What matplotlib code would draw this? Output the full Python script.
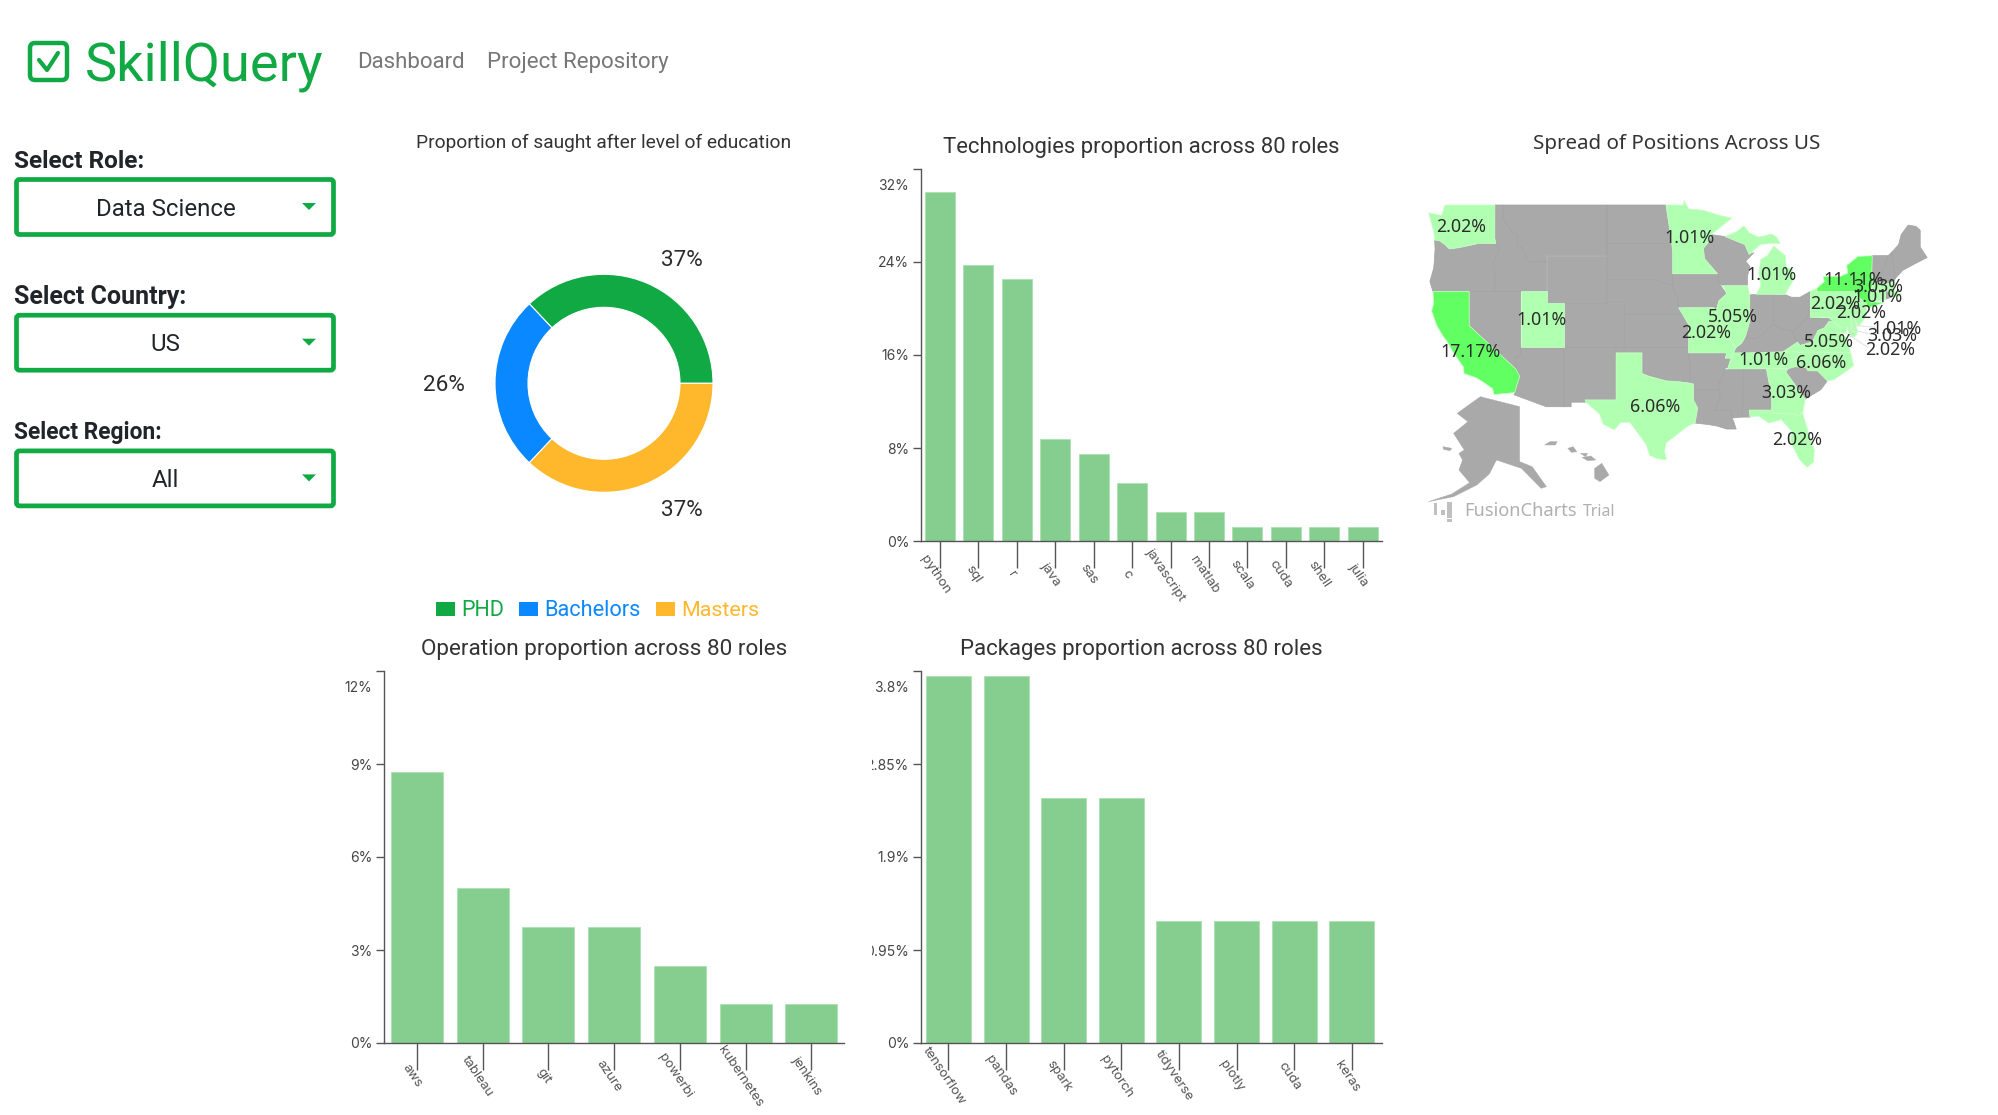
import math
import matplotlib
matplotlib.use("Agg")
import matplotlib.pyplot as plt
from matplotlib.patches import Polygon, FancyBboxPatch, Rectangle
from matplotlib.transforms import ScaledTranslation, Bbox, TransformedBbox, IdentityTransform

W, H = 1999, 1115
UI = "Roboto"
TICKF = "Inter"
MAPF = "Noto Sans"
GREEN = "#10a944"
BAR = "#86cd90"

# ---------- data ----------
edu_labels = ["PHD", "Bachelors", "Masters"]
edu_values = [37, 26, 37]
edu_colors = ["#10a944", "#0a88ff", "#ffb82b"]

tech_labels = ["python", "sql", "r", "java", "sas", "c", "javascript", "matlab", "scala", "cuda", "shell", "julia"]
tech_values = [30.0, 23.75, 22.5, 8.75, 7.5, 5.0, 2.5, 2.5, 1.25, 1.25, 1.25, 1.25]
tech_ticks = [0, 8, 16, 24, 32]
tech_ticklabels = ["0%", "8%", "16%", "24%", "32%"]

op_labels = ["aws", "tableau", "git", "azure", "powerbi", "kubernetes", "jenkins"]
op_values = [8.75, 5.0, 3.75, 3.75, 2.5, 1.25, 1.25]
op_ticks = [0, 3, 6, 9, 12]
op_ticklabels = ["0%", "3%", "6%", "9%", "12%"]

pkg_labels = ["tensorflow", "pandas", "spark", "pytorch", "tidyverse", "plotly", "cuda", "keras"]
pkg_values = [3.75, 3.75, 2.5, 2.5, 1.25, 1.25, 1.25, 1.25]
pkg_ticks = [0, 0.95, 1.9, 2.85, 3.8]
pkg_ticklabels = ["0%", "0.95%", "1.9%", "2.85%", "3.8%"]

map_states = ["WA", "CA", "UT", "MN", "MI", "IL", "MO", "TX", "TN", "GA", "FL", "NC", "VA", "PA", "NY", "NJ",
              "MA", "CT", "DE", "MD", "DC"]
map_values = [2.02, 17.17, 1.01, 1.01, 1.01, 5.05, 2.02, 6.06, 1.01, 3.03, 2.02, 6.06, 5.05, 2.02, 11.11, 2.02,
              3.03, 1.01, 1.01, 3.03, 2.02]
# label anchor for each entry above, in reference crop units
map_label_xy = [(172, 321), (197, 695), (397, 601), (810, 355), (1041, 466), (932, 590), (858, 638), (713, 860),
                (1018, 721), (1082, 820), (1113, 959), (1180, 729), (1200, 667), (1217, 552), (1270, 480),
                (1290, 580), (1340, 502), (1338, 532), (1390, 627), (1378, 647), (1373, 689)]

# coarse state outlines, lon/lat
state_shapes = {
 "WA": [(-124.7,48.4),(-123.2,48.2),(-122.8,49),(-117.03,49),(-117.04,46.4),(-116.92,45.99),(-118.98,46),(-119.3,45.93),(-121.2,45.65),(-122.3,45.55),(-122.8,45.9),(-123.4,46.2),(-124.0,46.27),(-124.1,46.9)],
 "OR": [(-124.0,46.27),(-123.4,46.2),(-122.8,45.9),(-122.3,45.55),(-121.2,45.65),(-119.3,45.93),(-118.98,46),(-116.92,45.99),(-116.46,45.6),(-116.85,44.95),(-117.2,44.4),(-117.03,43.8),(-117.03,42),(-124.2,42),(-124.55,42.85),(-124.1,44.0),(-123.95,45.5)],
 "CA": [(-124.2,42),(-120,42),(-120,39),(-114.63,35),(-114.15,34.27),(-114.5,33.4),(-114.72,32.72),(-117.12,32.53),(-117.3,33.1),(-118.4,33.75),(-119.2,34.15),(-120.6,34.55),(-120.65,35.15),(-121.9,36.6),(-122.5,37.5),(-123.0,38.0),(-123.75,39),(-124.35,40.3),(-124.1,41)],
 "NV": [(-120,42),(-114.04,42),(-114.04,36.2),(-114.63,36.1),(-114.63,35),(-120,39)],
 "ID": [(-117.03,49),(-116.05,49),(-116.05,48),(-115.7,47.5),(-114.7,46.7),(-114.35,46.65),(-114.5,45.6),(-113.95,45.7),(-113.45,44.95),(-113,44.45),(-111.5,44.55),(-111.05,44.5),(-111.05,42),(-117.03,42),(-117.03,43.8),(-117.2,44.4),(-116.85,44.95),(-116.46,45.6),(-116.92,45.99),(-117.04,46.4)],
 "MT": [(-116.05,49),(-104.05,49),(-104.05,45),(-111.05,45),(-111.05,44.5),(-111.5,44.55),(-113,44.45),(-113.45,44.95),(-113.95,45.7),(-114.5,45.6),(-114.35,46.65),(-114.7,46.7),(-115.7,47.5),(-116.05,48)],
 "WY": [(-111.05,45),(-104.05,45),(-104.05,41),(-111.05,41)],
 "UT": [(-114.04,42),(-111.05,42),(-111.05,41),(-109.05,41),(-109.05,37),(-114.04,37)],
 "CO": [(-109.05,41),(-102.05,41),(-102.05,37),(-109.05,37)],
 "AZ": [(-114.04,37),(-109.05,37),(-109.05,31.33),(-111.07,31.33),(-114.8,32.5),(-114.72,32.72),(-114.5,33.4),(-114.15,34.27),(-114.63,35),(-114.63,36.1),(-114.04,36.2)],
 "NM": [(-109.05,37),(-103,37),(-103,32),(-106.6,32),(-106.5,31.78),(-108.2,31.78),(-108.2,31.33),(-109.05,31.33)],
 "ND": [(-104.05,49),(-97.23,49),(-96.56,46),(-104.05,46)],
 "SD": [(-104.05,46),(-96.56,46),(-96.45,45.3),(-96.45,42.5),(-97.9,42.8),(-98.5,43),(-104.05,43)],
 "NE": [(-104.05,43),(-98.5,43),(-97.9,42.8),(-96.45,42.5),(-95.9,41.5),(-95.3,40),(-102.05,40),(-102.05,41),(-104.05,41)],
 "KS": [(-102.05,40),(-95.3,40),(-94.62,39.1),(-94.62,37),(-102.05,37)],
 "OK": [(-103,37),(-94.62,37),(-94.43,35.4),(-94.48,33.64),(-96,33.8),(-97.2,33.85),(-99.2,34.3),(-100,34.56),(-100,36.5),(-103,36.5)],
 "TX": [(-103,36.5),(-100,36.5),(-100,34.56),(-99.2,34.3),(-97.2,33.85),(-96,33.8),(-94.48,33.64),(-94.04,33.55),(-94.04,32),(-93.55,31.2),(-93.85,29.7),(-94.7,29.4),(-96,28.5),(-97.2,27.7),(-97.4,26.8),(-97.15,25.96),(-98.2,26.05),(-99.1,26.4),(-99.5,27.5),(-100.4,28.6),(-101.4,29.77),(-102.5,29.75),(-103.2,29),(-104.5,29.6),(-104.9,30.6),(-106.5,31.78),(-106.6,32),(-103,32)],
 "MN": [(-97.23,49),(-95.15,49),(-95.15,49.38),(-94.6,48.7),(-92.9,48.6),(-91,48.2),(-89.6,48),(-92,46.7),(-92.3,46.1),(-92.9,45.6),(-92.75,44.75),(-91.25,43.5),(-96.45,43.5),(-96.45,45.3),(-96.56,46)],
 "IA": [(-96.45,43.5),(-91.25,43.5),(-91.1,42.7),(-90.2,41.8),(-91.1,41.2),(-91.42,40.38),(-91.7,40.6),(-95.77,40.58),(-95.9,41.5),(-96.45,42.5)],
 "MO": [(-95.77,40.58),(-91.7,40.6),(-91.42,40.38),(-91.5,40),(-90.7,39),(-90.2,38.8),(-90.2,38.3),(-89.5,37.3),(-89.1,37),(-89.4,36.5),(-89.7,36),(-90.37,36),(-90.2,36.5),(-94.62,36.5),(-94.62,39.1),(-95.3,40)],
 "AR": [(-94.62,36.5),(-90.2,36.5),(-90.37,36),(-89.7,36),(-90.1,35),(-90.3,35),(-91.1,33.6),(-91.17,33),(-94.04,33),(-94.04,33.55),(-94.48,33.64),(-94.43,35.4)],
 "LA": [(-94.04,33),(-91.17,33),(-90.9,32.3),(-91.6,31),(-89.73,31),(-89.6,30.2),(-89.4,29.9),(-89.1,29.1),(-90.2,29.1),(-91.3,29.4),(-92.3,29.55),(-93.85,29.7),(-93.55,31.2),(-94.04,32)],
 "WI": [(-92,46.7),(-90.4,46.55),(-88.1,45.9),(-87.6,45.1),(-87.05,45.25),(-88,44.55),(-87.5,44.1),(-87.8,43.3),(-87.8,42.5),(-90.65,42.5),(-91.1,42.7),(-91.25,43.5),(-92.75,44.75),(-92.9,45.6),(-92.3,46.1)],
 "IL": [(-90.65,42.5),(-87.8,42.5),(-87.53,41.7),(-87.53,39.35),(-87.95,38.2),(-88.1,37.9),(-88.45,37.4),(-89.1,37),(-89.5,37.3),(-90.2,38.3),(-90.2,38.8),(-90.7,39),(-91.5,40),(-91.42,40.38),(-91.1,41.2),(-90.2,41.8)],
 "IN": [(-87.53,41.7),(-86.8,41.76),(-84.8,41.76),(-84.8,39.1),(-85.4,38.7),(-86.3,38),(-87.1,37.8),(-88.05,37.8),(-87.95,38.2),(-87.53,39.35)],
 "MI": [(-86.8,41.76),(-84.8,41.75),(-83.45,41.73),(-83.1,42.2),(-82.45,43),(-82.6,43.9),(-83.3,44),(-83.4,45),(-84.75,45.78),(-85.5,45),(-86.25,44.7),(-86.5,43.6),(-86.25,42.5)],
 "MI2": [(-90.4,46.55),(-89,46.95),(-88.2,47.4),(-87.6,46.85),(-86.5,46.5),(-85,46.75),(-84.4,46.5),(-84,46),(-85,46),(-86.3,45.9),(-87.6,45.1),(-88.1,45.9)],
 "OH": [(-84.8,41.75),(-83.45,41.73),(-82.7,41.5),(-81.7,41.5),(-80.52,42),(-80.52,40.64),(-80.85,39.7),(-81.75,39.0),(-82.2,38.6),(-82.6,38.45),(-83.6,38.65),(-84.8,39.1)],
 "KY": [(-89.4,36.5),(-89.1,37),(-88.45,37.4),(-88.1,37.9),(-87.1,37.8),(-86.3,38),(-85.4,38.7),(-84.8,39.1),(-83.6,38.65),(-82.6,38.45),(-82,37.5),(-83.68,36.6),(-88.05,36.5)],
 "TN": [(-89.7,36),(-89.4,36.5),(-88.05,36.5),(-83.68,36.6),(-81.68,36.59),(-82,36.1),(-84.3,35),(-90.3,35),(-90.1,35)],
 "MS": [(-90.3,35),(-88.2,35),(-88.4,30.3),(-89.6,30.2),(-89.73,31),(-91.6,31),(-90.9,32.3),(-91.17,33),(-91.1,33.6)],
 "AL": [(-88.2,35),(-85.6,35),(-85.0,32.3),(-85.0,31),(-87.6,31),(-87.5,30.3),(-88.4,30.3)],
 "GA": [(-85.6,35),(-83.1,35),(-83.35,34.7),(-81.1,32.1),(-81.4,30.7),(-82.05,30.36),(-82.2,30.57),(-84.86,30.7),(-85.0,31),(-85.0,32.3)],
 "FL": [(-87.6,31),(-85,31),(-84.86,30.7),(-82.2,30.57),(-82.05,30.36),(-81.4,30.7),(-81,29.5),(-80.05,26.9),(-80.15,25.7),(-80.9,25.15),(-81.8,26),(-82.8,27.8),(-82.7,28.9),(-83.9,30.05),(-85.3,29.7),(-86.5,30.4),(-87.5,30.3)],
 "SC": [(-83.35,34.7),(-83.1,35),(-82.3,35.2),(-81,35.1),(-80.8,34.82),(-79.67,34.8),(-78.55,33.86),(-79.3,33),(-81.1,32.1)],
 "NC": [(-84.3,35),(-82,36.1),(-81.68,36.59),(-75.87,36.55),(-75.5,35.3),(-76.5,34.7),(-77.8,33.95),(-78.55,33.86),(-79.67,34.8),(-80.8,34.82),(-81,35.1),(-82.3,35.2),(-83.1,35)],
 "VA": [(-83.68,36.6),(-75.87,36.55),(-76,37),(-76.3,37.9),(-77,38.3),(-77.05,38.85),(-77.5,39.1),(-77.75,39.3),(-78.35,39.4),(-78.9,38.8),(-79.65,38.55),(-80.3,37.5),(-81.7,37.2),(-82,37.5)],
 "WV": [(-82.6,38.45),(-82,37.5),(-81.7,37.2),(-80.3,37.5),(-79.65,38.55),(-78.9,38.8),(-78.35,39.4),(-77.75,39.3),(-78.4,39.7),(-79.48,39.72),(-80.52,39.72),(-80.52,40.64),(-80.85,39.7),(-81.75,39),(-82.2,38.6)],
 "PA": [(-80.52,42),(-79.76,42.27),(-79.76,42),(-75.35,42),(-74.7,41.35),(-75.1,40.9),(-75.2,40.7),(-74.75,40.2),(-75.4,39.8),(-75.8,39.72),(-79.48,39.72),(-80.52,39.72)],
 "NY": [(-79.76,42.27),(-78.9,42.85),(-79.05,43.27),(-77,43.3),(-76.2,43.55),(-76.3,44.2),(-75,44.95),(-73.35,45),(-73.4,43.6),(-73.25,42.75),(-73.5,42.05),(-73.5,41.1),(-71.9,41.05),(-73.7,40.6),(-74,40.7),(-74.7,41.35),(-75.35,42),(-79.76,42)],
 "NJ": [(-74.7,41.35),(-74,40.95),(-74,40.45),(-74.1,39.75),(-74.9,38.95),(-75.5,39.5),(-74.75,40.2),(-75.2,40.7),(-75.1,40.9)],
 "DE": [(-75.8,39.72),(-75.4,39.8),(-75.05,38.45),(-75.7,38.46)],
 "MD": [(-79.48,39.72),(-75.8,39.72),(-75.7,38.46),(-75.05,38.45),(-75.3,38),(-75.9,37.95),(-76.3,38.9),(-76.4,38.3),(-77,38.3),(-77.05,38.85),(-77.5,39.1),(-77.75,39.3),(-78.4,39.7)],
 "CT": [(-73.5,42.05),(-71.8,42.02),(-71.8,41.33),(-73.5,41.05)],
 "RI": [(-71.8,42.02),(-71.38,42.02),(-71.15,41.5),(-71.8,41.33)],
 "MA": [(-73.5,42.05),(-73.25,42.75),(-71.3,42.7),(-70.8,42.87),(-70.6,42.65),(-71,42.3),(-70.6,41.95),(-70,41.8),(-70.05,41.6),(-71.15,41.5),(-71.38,42.02)],
 "VT": [(-73.35,45),(-71.5,45.01),(-72.45,43.2),(-72.46,42.73),(-73.25,42.75),(-73.4,43.6)],
 "NH": [(-71.5,45.01),(-71.08,45.3),(-70.7,43.1),(-70.8,42.87),(-71.3,42.7),(-72.46,42.73),(-72.45,43.2)],
 "ME": [(-71.08,45.3),(-70.3,45.9),(-70,46.7),(-69.2,47.45),(-68.3,47.35),(-67.8,47.05),(-67.8,45.7),(-67,44.85),(-68.5,44.3),(-69.8,43.8),(-70.7,43.1)],
}
# inset outlines, in reference crop units
inset_shapes = [
 [(160,880),(225,830),(335,860),(335,1025),(370,1040),(410,1100),(395,1105),(340,1045),(270,1020),(250,1062),(215,1095),(150,1130),(80,1145),(145,1122),(195,1088),(165,1050),(175,1020),(165,1000),(180,990),(150,940),(190,905)],
 [(120,980),(145,985),(140,992),(122,988)], [(405,975),(420,965),(440,965),(435,975),(415,975)],
 [(470,985),(485,980),(495,995),(480,997)], [(505,1000),(525,1000),(520,1010)], [(510,1012),(535,1008),(548,1020),(525,1022)],
 [(545,1045),(565,1030),(585,1065),(560,1085),(545,1075)],
]

# ---------- helpers ----------
fig = plt.figure(figsize=(W / 100, H / 100), dpi=100, facecolor="white")
ui = fig.add_axes([0, 0, 1, 1])
ui.set_xlim(0, W)
ui.set_ylim(H, 0)
ui.axis("off")
renderer = fig.canvas.get_renderer()


def put(x, y, s, px=16, width=None, **kw):
    kw.setdefault("family", UI)
    kw.setdefault("color", "#212529")
    kw.setdefault("va", "baseline")
    kw.setdefault("ha", "left")
    t = ui.text(x, y, s, fontsize=px * 0.72, **kw)
    if width:
        w = t.get_window_extent(renderer).width
        t.set_fontsize(t.get_fontsize() * width / w)
    return t


def bar_panel(box, first, step, barw, labels, values, ticks, ticklabels, clip_left=None):
    x0, y0, x1, y1 = box
    ax = fig.add_axes([x0 / W, 1 - y1 / H, (x1 - x0) / W, (y1 - y0) / H])
    ax.patch.set_alpha(0)
    ax.bar(range(len(values)), values, width=barw / step, color=BAR, edgecolor="#a9e2b1", linewidth=0.6, zorder=2)
    ax.set_xlim((x0 - first) / step, (x1 - first) / step)
    ax.set_ylim(ticks[0], ticks[-1])
    ax.set_yticks(ticks, ticklabels)
    ax.set_xticks(range(len(labels)), labels)
    for s in ("top", "right"):
        ax.spines[s].set_visible(False)
    for s in ("left", "bottom"):
        ax.spines[s].set_color("#555555")
        ax.spines[s].set_linewidth(1.0)
        ax.spines[s].set_zorder(3)
    ax.tick_params(axis="y", length=5.8, width=1.0, color="#555555", pad=2.5, labelcolor="#444444", labelsize=10)
    ax.tick_params(axis="x", length=19.4, width=1.0, color="#555555", pad=4.5, labelcolor="#555555", labelsize=9.6)
    for lab in ax.get_yticklabels():
        lab.set_family(TICKF)
    shift = ScaledTranslation(-5 / 100, 0, fig.dpi_scale_trans)
    for lab in ax.get_xticklabels():
        lab.set_family(TICKF)
        lab.set_rotation(-56)
        lab.set_rotation_mode("anchor")
        lab.set_ha("center")
        lab.set_va("center")
        lab.set_transform(lab.get_transform() + shift)
    top = ax.get_yticklabels()[-1]
    top.set_transform(top.get_transform() + ScaledTranslation(0, -15.5 / 100, fig.dpi_scale_trans))
    if clip_left is not None:
        clip = TransformedBbox(Bbox([[clip_left, 0], [W, H]]), IdentityTransform())
        for lab in ax.get_yticklabels():
            lab.set_clip_box(clip)
            lab.set_clip_on(True)
    return ax


# ---------- header ----------
ui.add_patch(FancyBboxPatch((30, 43), 37, 37, boxstyle="round,pad=0,rounding_size=5", fc="none", ec=GREEN, lw=3.2))
ui.plot([39, 47, 58], [60, 70, 53], color=GREEN, lw=3.0, solid_capstyle="round", solid_joinstyle="round")
put(85, 80, "SkillQuery", width=239, px=53, color=GREEN)
put(357, 68, "Dashboard", width=108, px=21, color="#777777")
put(487, 68, "Project Repository", width=182, px=21, color="#777777")

# ---------- selectors ----------
select_titles = ["Select Role:", "Select Country:", "Select Region:"]
select_values = ["Data Science", "US", "All"]
select_title_w = [131, 173, 148]
for i, (tt, vv, tw) in enumerate(zip(select_titles, select_values, select_title_w)):
    dy = i * 135.7
    put(14, 168 + dy, tt, width=tw, px=22, weight="bold")
    ui.add_patch(FancyBboxPatch((16.5, 179.5 + dy), 317, 55, boxstyle="round,pad=0,rounding_size=3",
                                fc="white", ec=GREEN, lw=3.4))
    put(165.6, 215.7 + dy, vv, px=24, ha="center")
    ui.add_patch(Polygon([(302, 203 + dy), (316, 203 + dy), (309, 210 + dy)], fc=GREEN, ec="none"))

# ---------- donut ----------
put(604, 148, "Proportion of saught after level of education", width=375, px=17.5, ha="center", color="#333333")
dc = (604, 383.3)
dr = 109
dax = fig.add_axes([(dc[0] - dr) / W, 1 - (dc[1] + dr) / H, 2 * dr / W, 2 * dr / H])
dax.pie(edu_values, colors=edu_colors, startangle=0, counterclock=True, radius=1,
        wedgeprops=dict(width=33 / 109, edgecolor="white", linewidth=0.8))
dax.set_xlim(-1, 1)
dax.set_ylim(-1, 1)
donut_label_xy = [(682, 260.5), (444, 385.5), (682, 510.5)]
for v, (lx, ly) in zip(edu_values, donut_label_xy):
    put(lx, ly, f"{v}%", px=22.5, ha="center", va="center", color="#2a2a2a")

# legend
legend_sq = [(436, 455), (519, 538), (656, 675)]
legend_tx = [(461, 43), (544, 97), (681, 78)]
for name, col, (a, b), (tx, tw) in zip(edu_labels, edu_colors, legend_sq, legend_tx):
    ui.add_patch(Rectangle((a, 602), b - a, 14, fc=col, ec="none"))
    put(tx, 615.5, name, width=tw, px=21, color=col)

# ---------- bar panels ----------
put(1141, 153, "Technologies proportion across 80 roles", width=398, px=21, ha="center", color="#333333")
bar_panel((920.7, 168.6, 1382, 541.3), 939.8, 38.45, 30, tech_labels, tech_values, tech_ticks, tech_ticklabels)

put(604, 655, "Operation proportion across 80 roles", width=367, px=21, ha="center", color="#333333")
bar_panel((384, 671, 844, 1043), 416.8, 65.75, 52, op_labels, op_values, op_ticks, op_ticklabels)

put(1141, 655, "Packages proportion across 80 roles", width=364, px=21, ha="center", color="#333333")
bar_panel((920.7, 671, 1382, 1043), 948.5, 57.6, 45, pkg_labels, pkg_values, pkg_ticks, pkg_ticklabels, clip_left=872)

# ---------- map ----------
put(1677, 149, "Spread of Positions Across US", width=287, px=20, ha="center", family=MAPF, color="#333333")


def merc(lat):
    return math.degrees(math.log(math.tan(math.radians(45 + lat / 2))))


def geo(lon, lat):
    return 1428.6 + 8.64 * (lon + 124.7), 205 + (merc(49) - merc(lat)) * 8.64


def crop(zx, zy):
    return 1400 + zx / 2.8, 120 + zy / 3


GREY, LIGHT, BRIGHT = "#a9a9a9", "#b1ffb1", "#62ff62"
lookup = dict(zip(map_states, map_values))
lookup["MI2"] = lookup["MI"]


def fill(v):
    if v is None:
        return GREY
    return BRIGHT if v >= 10 else LIGHT


for pts in inset_shapes:
    ui.add_patch(Polygon([crop(*p) for p in pts], fc=GREY, ec=GREY, lw=0.3))
for name in sorted(state_shapes, key=lambda n: n in lookup):
    v = lookup.get(name)
    ui.add_patch(Polygon([geo(*p) for p in state_shapes[name]], closed=True, fc=fill(v),
                         ec="#a2a2a2" if v is None else "#c9ffc9", lw=0.5, joinstyle="round"))

leader_lines = [((1265, 615), (1330, 622)), ((1258, 628), (1318, 642)), ((1250, 640), (1310, 682))]
for a, b in leader_lines:
    pa, pb = crop(*a), crop(*b)
    ui.plot([pa[0], pb[0]], [pa[1], pb[1]], color="#dddddd", lw=0.6)

for (zx, zy), v in zip(map_label_xy, map_values):
    lx, ly = crop(zx, zy)
    put(lx, ly, f"{v:.2f}%", px=17.8, ha="center", va="center", family=MAPF, color="#2b2b2b")

# watermark
wm_bars = [(95, 105, 1150, 1185), (115, 125, 1170, 1185), (133, 145, 1145, 1195), (133, 145, 1198, 1206)]
for xa, xb, ya, yb in wm_bars:
    a, b = crop(xa, ya), crop(xb, yb)
    ui.add_patch(Rectangle(a, b[0] - a[0], b[1] - a[1], fc="#c0c0c0", ec="none"))
put(1464, 516, "FusionCharts", width=113, px=17, family=MAPF, color="#b0b0b0", weight="bold")
put(1583, 516, "Trial", width=33, px=14, family=MAPF, color="#b0b0b0", weight="bold")

fig.savefig("out.png", dpi=100, facecolor="white")
